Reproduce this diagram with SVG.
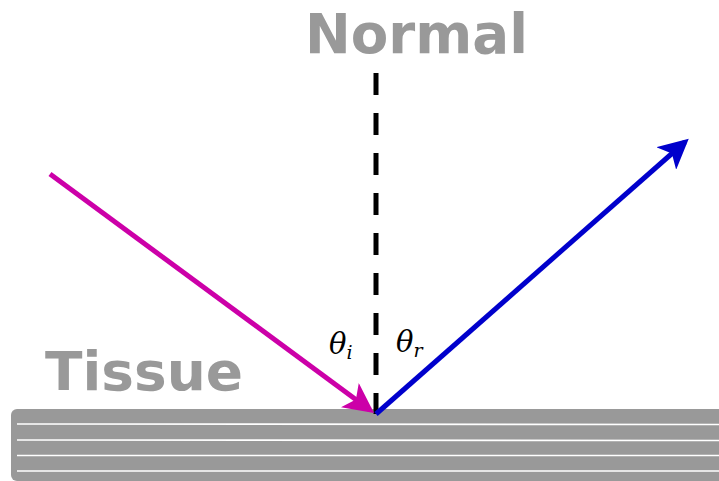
<svg xmlns="http://www.w3.org/2000/svg" width="719" height="481" viewBox="0 0 719 481">
<style>
.lbl{font-family:"DejaVu Sans",sans-serif;font-weight:bold;fill:#999}
.m{font-family:"DejaVu Serif","Liberation Serif",serif;font-style:italic;fill:#000}
</style>
<defs>
<marker id="am" markerWidth="6" markerHeight="6" refX="5" refY="3" orient="auto" markerUnits="strokeWidth"><path d="M0,0 L6,3 L0,6 L1.5,3 z" fill="#cc00a8"/></marker>
<marker id="ab" markerWidth="6" markerHeight="6" refX="5" refY="3" orient="auto" markerUnits="strokeWidth"><path d="M0,0 L6,3 L0,6 L1.5,3 z" fill="#0000cc"/></marker>
</defs>
<rect width="719" height="481" fill="#fff"/>
<g id="tissue">
<rect x="11" y="409" width="720" height="72" rx="6" fill="#999"/>
<g stroke="#fff" stroke-width="1.6">
<line x1="17" y1="424" x2="719" y2="424.5"/>
<line x1="17" y1="440" x2="719" y2="440.5"/>
<line x1="17" y1="455.5" x2="719" y2="455.5"/>
<line x1="17" y1="471" x2="719" y2="471"/>
</g>
<text class="lbl" x="45" y="390" font-size="53" textLength="198" lengthAdjust="spacingAndGlyphs">Tissue</text>
</g>
<g id="normal">
<text class="lbl" x="305" y="53" font-size="55" textLength="223" lengthAdjust="spacingAndGlyphs">Normal</text>
<line x1="376" y1="73" x2="376" y2="414" stroke="#000" stroke-width="5" stroke-dasharray="22 18"/>
</g>
<g id="connectors">
<line x1="50" y1="174" x2="370" y2="410" stroke="#cc00a8" stroke-width="5" marker-end="url(#am)"/>
<line x1="376" y1="414" x2="685" y2="142" stroke="#0000cc" stroke-width="5" marker-end="url(#ab)"/>
</g>
<g id="angles">
<text class="m" x="329" y="354" font-size="29">θ<tspan font-size="19" dy="5">i</tspan></text>
<text class="m" x="396" y="352" font-size="29">θ<tspan font-size="19" dy="5">r</tspan></text>
</g>
</svg>
